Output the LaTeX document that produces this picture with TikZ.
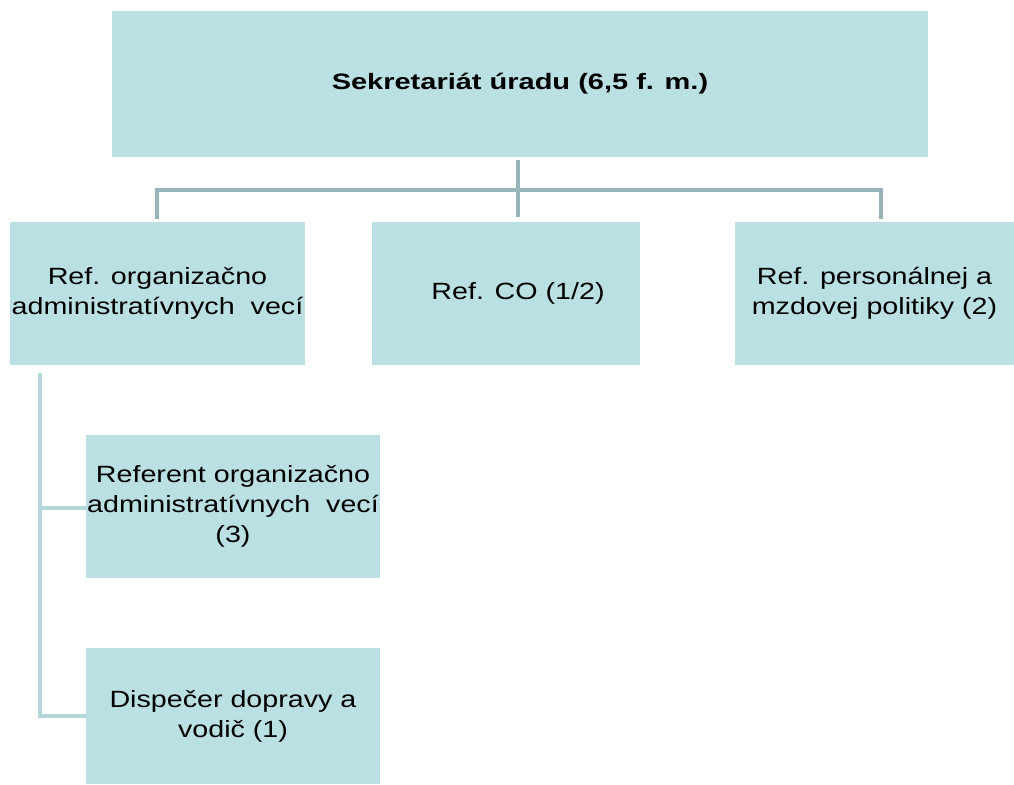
\documentclass[tikz,border=0pt]{standalone}
\usepackage{fontspec}
\setmainfont{Liberation Sans}
\newfontfamily\widefont{Liberation Sans}[FakeStretch=1.22]
\newfontfamily\widebold{Liberation Sans Bold}[FakeStretch=1.3]
\definecolor{boxfill}{HTML}{BAE0E3}
\definecolor{lineA}{HTML}{97B5B8}
\definecolor{lineB}{HTML}{B2D6DA}
\begin{document}
\begin{tikzpicture}[x=1pt,y=-1pt,
  orgbox/.style={fill=boxfill, draw=none, inner sep=0pt, align=center,
    font=\widefont\fontsize{23.5}{30}\selectfont},
  topconn/.style={draw=lineA, line width=4.5pt},
  subconn/.style={draw=lineB, line width=4.5pt}]
\useasboundingbox (0,0) rectangle (1014,784);
% boxes
\node[orgbox, minimum width=816pt, minimum height=145pt, font=\widebold\fontsize{22.3}{26}\selectfont] (top) at (520,84) {Sekretariát úradu (6,5 f. m.)};
\node[orgbox, minimum width=295pt, minimum height=143pt] (c1) at (157.5,293.5) {Ref. organizačno\\administratívnych\ \ vecí};
\node[orgbox, minimum width=268pt, minimum height=143pt] (c2) at (506,293.5) {\hspace*{24pt}Ref. CO (1/2)};
\node[orgbox, minimum width=279pt, minimum height=143pt] (c3) at (874.5,293.5) {Ref. personálnej a\\mzdovej politiky (2)};
\node[orgbox, minimum width=294pt, minimum height=143pt] (s1) at (233,506.5) {Referent organizačno\\administratívnych\ \ vecí\\(3)};
\node[orgbox, minimum width=294pt, minimum height=136pt] (s2) at (233,716) {Dispečer dopravy a\\vodič (1)};
% connectors top
\coordinate (hj) at (518,190);
\draw[topconn] (518,160) -- (hj);
\draw[topconn, line cap=rect] (157,217) |- (hj) -| (881,217);
\draw[topconn] (hj) -- (518,217);
% connectors left
\coordinate (lv) at (40,373);
\draw[subconn] (lv) |- (s2.west);
\draw[subconn] (40,508) -- (s1.west |- 0,508);
\end{tikzpicture}
\end{document}
